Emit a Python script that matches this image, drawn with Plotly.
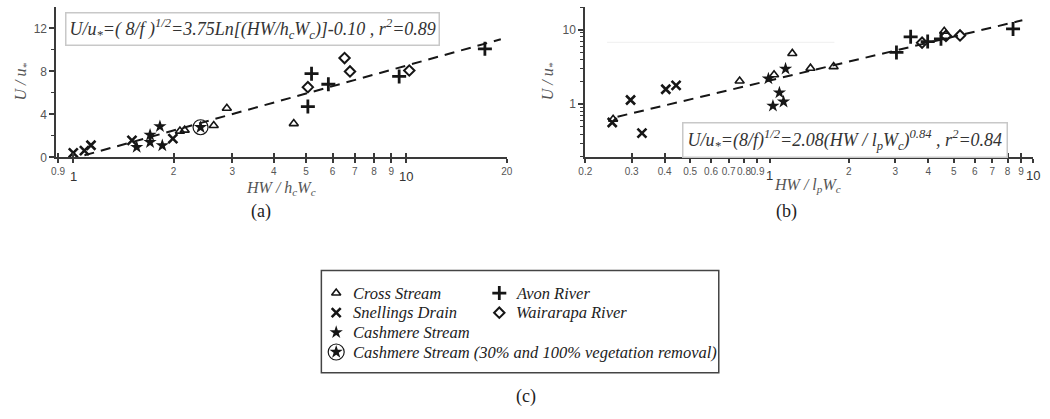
import numpy as np
import plotly.graph_objects as go

W, H = 1050, 419
INK = "#161616"
AX = "#3a3a3a"
TICKGRAY = "#555555"
SERIF = "Liberation Serif, Times New Roman, serif"
SANS = "Liberation Sans, Arial, sans-serif"

# ---------------- panel (a): U/u* vs HW/(h_c W_c), semi-log ----------------
a_cross_x = [2.09, 2.16, 2.64, 2.89, 4.59]
a_cross_y = [2.44, 2.53, 2.96, 4.57, 3.14]
a_snell_x = [1.00, 1.08, 1.13, 1.50, 1.99]
a_snell_y = [0.42, 0.62, 1.12, 1.57, 1.74]
a_cash_x = [1.55, 1.70, 1.70, 1.82, 1.85]
a_cash_y = [0.95, 2.08, 1.40, 2.88, 1.10]
a_cashveg_x = [2.41]
a_cashveg_y = [2.80]
a_avon_x = [5.06, 5.19, 5.83, 9.51, 17.2]
a_avon_y = [4.72, 7.78, 6.80, 7.53, 10.1]
a_waira_x = [5.06, 6.52, 6.77, 10.2]
a_waira_y = [6.53, 9.24, 7.99, 8.08]
a_coef, a_const, a_r2 = 3.75, -0.10, 0.89
a_fit_span = [1.08, 19.2]

a_xtick_vals = [0.9, 2, 3, 4, 5, 6, 7, 8, 9, 20]
a_xtick_text = ["0.9", "2", "3", "4", "5", "6", "7", "8", "9", "20"]
a_xtick_big = [1, 10]
a_ytick_vals = [0, 4, 8, 12]
a_yminor_vals = [2, 6, 10]

# ---------------- panel (b): U/u* vs HW/(l_p W_c), log-log ----------------
b_cross_x = [0.255, 0.77, 1.04, 1.22, 1.43, 1.75, 4.60]
b_cross_y = [0.63, 2.05, 2.48, 4.79, 3.04, 3.19, 9.50]
b_snell_x = [0.253, 0.297, 0.328, 0.404, 0.442]
b_snell_y = [0.57, 1.14, 0.41, 1.59, 1.79]
b_cash_x = [0.99, 1.03, 1.09, 1.13, 1.15]
b_cash_y = [2.20, 0.95, 1.43, 1.08, 2.98]
b_avon_x = [3.03, 3.43, 3.98, 4.47, 8.39]
b_avon_y = [4.94, 8.00, 6.90, 7.50, 10.2]
b_waira_x = [3.79, 4.67, 5.28]
b_waira_y = [6.68, 8.20, 8.33]
b_coef, b_exp, b_r2 = 2.08, 0.84, 0.84
b_fit_span = [0.265, 9.1]

b_xtick_vals = [0.2, 0.3, 0.4, 0.5, 0.6, 0.7, 0.8, 0.9, 2, 3, 4, 5, 6, 7, 8, 9]
b_xtick_text = ["0.2", "0.3", "0.4", "0.5", "0.6", "0.7", "0.8", "0.9",
                "2", "3", "4", "5", "6", "7", "8", "9"]
b_xtick_big = [1, 10]
b_ytick_vals = [1, 10]
b_yminor_vals = [0.2, 0.3, 0.4, 0.5, 0.6, 0.7, 0.8, 0.9, 2, 3, 4, 5, 6, 7, 8, 9, 20]

# ---------------- series styling ----------------
STYLE = {
    "cross": dict(symbol="triangle-up-open", size=8, color=INK, line=dict(width=1.6, color=INK)),
    "snell": dict(symbol="x-thin-open", size=9, color=INK, line=dict(width=2.6, color=INK)),
    "cash": dict(symbol="star", size=10, color=INK, line=dict(width=0)),
    "avon": dict(symbol="cross-thin-open", size=10, color=INK, line=dict(width=2.8, color=INK)),
    "waira": dict(symbol="diamond-open", size=8, color=INK, line=dict(width=2.0, color=INK)),
    "ring": dict(symbol="circle-open", size=15, color=INK, line=dict(width=1.2, color=INK)),
}

fig = go.Figure()


def pts(x, y, style, xa, ya):
    fig.add_trace(go.Scatter(x=x, y=y, mode="markers", marker=STYLE[style],
                             xaxis=xa, yaxis=ya, showlegend=False, hoverinfo="skip"))


# fitted curves from the stated regression equations
ax_fit = np.geomspace(a_fit_span[0], a_fit_span[1], 40)
ay_fit = a_coef * np.log(ax_fit) + a_const
bx_fit = np.geomspace(b_fit_span[0], b_fit_span[1], 40)
by_fit = b_coef * bx_fit ** b_exp

DASH = "10px,7px"
fig.add_trace(go.Scatter(x=ax_fit, y=ay_fit, mode="lines", line=dict(color=INK, width=2, dash=DASH),
                         xaxis="x", yaxis="y", showlegend=False, hoverinfo="skip"))
fig.add_trace(go.Scatter(x=bx_fit, y=by_fit, mode="lines", line=dict(color=INK, width=2, dash=DASH),
                         xaxis="x2", yaxis="y2", showlegend=False, hoverinfo="skip"))

pts(a_cross_x, a_cross_y, "cross", "x", "y")
pts(a_snell_x, a_snell_y, "snell", "x", "y")
pts(a_cash_x, a_cash_y, "cash", "x", "y")
pts(a_cashveg_x, a_cashveg_y, "cash", "x", "y")
pts(a_cashveg_x, a_cashveg_y, "ring", "x", "y")
pts(a_avon_x, a_avon_y, "avon", "x", "y")
pts(a_waira_x, a_waira_y, "waira", "x", "y")

pts(b_cross_x, b_cross_y, "cross", "x2", "y2")
pts(b_snell_x, b_snell_y, "snell", "x2", "y2")
pts(b_cash_x, b_cash_y, "cash", "x2", "y2")
pts(b_avon_x, b_avon_y, "avon", "x2", "y2")
pts(b_waira_x, b_waira_y, "waira", "x2", "y2")

# invisible anchors so the overlay tick axes get drawn
fig.add_trace(go.Scatter(x=[2], y=[5], mode="markers", marker=dict(opacity=0),
                         xaxis="x3", yaxis="y", showlegend=False, hoverinfo="skip"))
fig.add_trace(go.Scatter(x=[2], y=[5], mode="markers", marker=dict(opacity=0),
                         xaxis="x4", yaxis="y2", showlegend=False, hoverinfo="skip"))

# ---------------- legend (drawn in its own pixel-style frame) ----------------
LEG_L, LEG_R, LEG_T, LEG_B = 318, 720, 275, 379
legend_items = [
    ("Cross Stream", ["cross"], 0, 0),
    ("Snellings Drain", ["snell"], 0, 1),
    ("Cashmere Stream", ["cash"], 0, 2),
    ("Cashmere Stream (30% and 100% vegetation removal)", ["ring", "cash"], 0, 3),
    ("Avon River", ["avon"], 1, 0),
    ("Wairarapa River", ["waira"], 1, 1),
]
col_sym_x = [333, 498]
row_y0, row_dy = 298, 20

annotations = []
for label, styles, col, row in legend_items:
    sx = col_sym_x[col]
    sy = row_y0 + row_dy * row
    for st in styles:
        mk = dict(STYLE[st])
        if st == "ring":
            mk["size"] = 16
        fig.add_trace(go.Scatter(x=[sx], y=[sy], mode="markers", marker=mk,
                                 xaxis="x5", yaxis="y5", showlegend=False, hoverinfo="skip"))
    annotations.append(dict(x=sx + 15, y=sy, xref="x5", yref="y5", text=f"<i>{label}</i>",
                            showarrow=False, xanchor="left", yanchor="middle",
                            font=dict(family=SERIF, size=16.5, color="#222")))

# ---------------- axes ----------------
def px_x(p):
    return p / W


def px_y(p):
    return 1 - p / H


a_dom_x = [px_x(50), px_x(506)]
b_dom_x = [px_x(585), px_x(1038)]
dom_y = [px_y(160), px_y(7)]

a_xrange = [np.log10(0.89), np.log10(20.07)]
b_xrange = [np.log10(0.2), np.log10(10.0)]

xbase = dict(type="log", showline=True, linecolor=AX, linewidth=2, ticks="outside", ticklen=4,
             tickwidth=1.5, tickcolor=AX, showgrid=False, zeroline=False, tickangle=0,
             tickfont=dict(family=SANS, size=10, color=TICKGRAY), tickmode="array")
xover = dict(type="log", showline=False, ticks="inside", ticklen=4, tickwidth=1.5, tickcolor=AX,
             showgrid=False, zeroline=False, showticklabels=False, tickmode="array", side="bottom")
ybase = dict(showline=True, linecolor=AX, linewidth=2, ticks="outside", ticklen=5, tickwidth=1.5,
             tickcolor=AX, showgrid=False, zeroline=False,
             tickfont=dict(family=SANS, size=12, color=TICKGRAY), tickmode="array")
decade_minor = dict(ticks="outside", ticklen=4, tickwidth=1.5, tickcolor=AX)

layout = dict(
    width=W, height=H, margin=dict(l=0, r=0, t=0, b=0),
    paper_bgcolor="white", plot_bgcolor="rgba(0,0,0,0)",
    xaxis=dict(xbase, domain=a_dom_x, range=a_xrange, anchor="y",
               tickvals=a_xtick_vals, ticktext=a_xtick_text,
               minor=dict(decade_minor, tickvals=a_xtick_big)),
    xaxis3=dict(xover, domain=a_dom_x, range=a_xrange, anchor="y", overlaying="x",
                tickvals=a_xtick_vals + a_xtick_big),
    yaxis=dict(ybase, domain=dom_y, range=[0, 14.0], anchor="x", tickvals=a_ytick_vals,
               minor=dict(tickvals=a_yminor_vals, ticks="outside", ticklen=3, tickcolor=AX, tickwidth=1.2)),
    xaxis2=dict(xbase, domain=b_dom_x, range=b_xrange, anchor="y2",
                tickvals=b_xtick_vals, ticktext=b_xtick_text,
                minor=dict(decade_minor, tickvals=b_xtick_big)),
    xaxis4=dict(xover, domain=b_dom_x, range=b_xrange, anchor="y2", overlaying="x2",
                tickvals=b_xtick_vals + b_xtick_big),
    yaxis2=dict(ybase, type="log", domain=dom_y, range=[np.log10(0.195), np.log10(20.1)], anchor="x2",
                tickvals=b_ytick_vals, ticktext=["1", "10"],
                minor=dict(tickvals=b_yminor_vals, ticks="outside", ticklen=3, tickcolor=AX, tickwidth=1.2)),
    xaxis5=dict(domain=[px_x(LEG_L), px_x(LEG_R)], range=[LEG_L, LEG_R], visible=False, anchor="y5"),
    yaxis5=dict(domain=[px_y(LEG_B), px_y(LEG_T)], range=[LEG_B, LEG_T], visible=False, anchor="x5"),
    showlegend=False,
)
fig.update_layout(**layout)

# larger, lowered decade labels on the x axes
for v in a_xtick_big:
    annotations.append(dict(x=np.log10(v), y=px_y(170), xref="x", yref="paper", text=str(v),
                            showarrow=False, xanchor="center", yanchor="top",
                            font=dict(family=SANS, size=13, color="#333")))
for v in b_xtick_big:
    annotations.append(dict(x=np.log10(v), y=px_y(169), xref="x2", yref="paper", text=str(v),
                            showarrow=False, xanchor="center", yanchor="top",
                            font=dict(family=SANS, size=13, color="#333")))

title_font = dict(family=SERIF, size=16, color="#555")


def note(x, y, text, font, **kw):
    base = dict(x=px_x(x), y=px_y(y), xref="paper", yref="paper", text=text, showarrow=False,
                xanchor="center", yanchor="middle", font=font)
    base.update(kw)
    return base


annotations += [
    note(15, 83, "<i>U / u<sub>*</sub></i>", title_font, textangle=-90),
    note(548, 83, "<i>U / u<sub>*</sub></i>", title_font, textangle=-90),
    note(277, 192, "<i>HW / h<sub>c</sub>W<sub>c</sub></i>", title_font),
    note(810, 189, "<i>HW / l<sub>p</sub>W<sub>c</sub></i>", title_font),
    # regression equations
    note(59, 12,
         f"<i>U/u<sub>*</sub>=( 8/f )<sup>1/2</sup>={a_coef:.2f}Ln[(HW/h<sub>c</sub>W<sub>c</sub>)]-{abs(a_const):.2f} , r<sup>2</sup>={a_r2:.2f}</i>",
         dict(family=SERIF, size=18, color="#333"), xanchor="left", yanchor="top",
         bgcolor="white", bordercolor="#c8c8c8", borderwidth=1.5, borderpad=3),
    note(683, 124,
         f"<i>U/u<sub>*</sub>=(8/f)<sup>1/2</sup>={b_coef:.2f}(HW / l<sub>p</sub>W<sub>c</sub>)<sup>{b_exp:.2f}</sup> , r<sup>2</sup>={b_r2:.2f}</i>",
         dict(family=SERIF, size=18, color="#333"), xanchor="left", yanchor="top",
         bgcolor="white", bordercolor="#c8c8c8", borderwidth=1.5, borderpad=4),
    # panel captions
    note(257, 215, "(a)", dict(family=SERIF, size=18, color="#222")),
    note(789, 215, "(b)", dict(family=SERIF, size=18, color="#222")),
    note(525, 403, "(c)", dict(family=SERIF, size=18, color="#222")),
]

shapes = [
    dict(type="rect", xref="paper", yref="paper", x0=px_x(LEG_L), x1=px_x(LEG_R),
         y0=px_y(LEG_B), y1=px_y(LEG_T), line=dict(color="#444", width=1.5)),
    dict(type="line", xref="paper", yref="paper", x0=px_x(607), x1=px_x(837),
         y0=px_y(43), y1=px_y(43), line=dict(color="#efefef", width=1)),
]

fig.update_layout(annotations=annotations, shapes=shapes)
fig.write_html("out.html")
